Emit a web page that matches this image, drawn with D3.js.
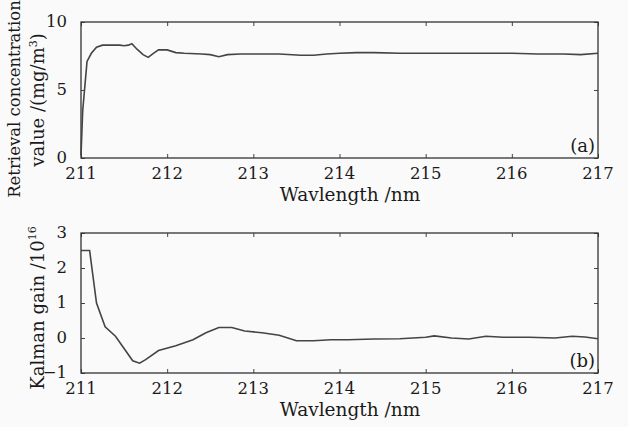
<!DOCTYPE html>
<html>
<head>
<meta charset="utf-8">
<script src="https://cdn.jsdelivr.net/npm/d3@7"></script>
<style>
  body { margin: 0; background: #fafafa; }
  text { font-family: "DejaVu Serif", serif; fill: #1a1a1a; }
</style>
</head>
<body>
<div id="chart"></div>
<script>
// wavelength axis ticks
const xTicks = [211, 212, 213, 214, 215, 216, 217];

// (a) retrieval concentration
const concWave = [211.0, 211.02, 211.07, 211.12, 211.18, 211.25, 211.35, 211.45, 211.5, 211.55, 211.59, 211.65, 211.72, 211.78, 211.84, 211.9, 212.0, 212.1, 212.2, 212.4, 212.5, 212.6, 212.7, 212.85, 213.0, 213.3, 213.55, 213.7, 213.85, 214.0, 214.2, 214.4, 214.7, 215.0, 215.5, 216.0, 216.3, 216.6, 216.8, 217.0];
const concVal  = [0.2, 3.5, 7.1, 7.7, 8.15, 8.3, 8.3, 8.3, 8.25, 8.3, 8.4, 8.0, 7.6, 7.4, 7.7, 7.95, 7.95, 7.75, 7.7, 7.65, 7.6, 7.45, 7.6, 7.65, 7.65, 7.65, 7.55, 7.55, 7.65, 7.7, 7.75, 7.75, 7.7, 7.7, 7.7, 7.7, 7.65, 7.65, 7.6, 7.7];

// (b) Kalman gain (x 10^16)
const gainWave = [211.0, 211.1, 211.18, 211.28, 211.4, 211.5, 211.6, 211.68, 211.75, 211.9, 212.1, 212.3, 212.45, 212.6, 212.75, 212.9, 213.1, 213.3, 213.5, 213.7, 213.9, 214.1, 214.4, 214.7, 215.0, 215.1, 215.3, 215.5, 215.7, 215.9, 216.2, 216.5, 216.7, 216.85, 217.0];
const gainVal  = [2.5, 2.5, 1.0, 0.32, 0.05, -0.3, -0.65, -0.72, -0.62, -0.36, -0.22, -0.05, 0.15, 0.3, 0.3, 0.2, 0.15, 0.08, -0.08, -0.08, -0.05, -0.05, -0.03, -0.02, 0.02, 0.06, 0.0, -0.03, 0.05, 0.02, 0.02, 0.0, 0.05, 0.03, -0.02];

const W = 628, H = 427;
const svg = d3.select("#chart").append("svg")
  .attr("width", W).attr("height", H);

const x = d3.scaleLinear().domain([211, 217]).range([81, 598]);

function panel(top, bottom, yDomain, yTicks, wave, vals, tag) {
  const y = d3.scaleLinear().domain(yDomain).range([bottom, top]);
  const g = svg.append("g");

  // ticks on all four sides, pointing inward
  g.append("g").attr("transform", `translate(0,${bottom})`)
    .call(d3.axisTop(x).tickValues(xTicks).tickSize(4).tickFormat(""));
  g.append("g").attr("transform", `translate(0,${top})`)
    .call(d3.axisBottom(x).tickValues(xTicks).tickSize(4).tickFormat(""));
  g.append("g").attr("transform", "translate(81,0)")
    .call(d3.axisRight(y).tickValues(yTicks).tickSize(4).tickFormat(""));
  g.append("g").attr("transform", "translate(598,0)")
    .call(d3.axisLeft(y).tickValues(yTicks).tickSize(4).tickFormat(""));
  g.selectAll(".domain").remove();
  g.selectAll(".tick line").attr("stroke", "#444");

  g.append("rect")
    .attr("x", 81).attr("y", top)
    .attr("width", 598 - 81).attr("height", bottom - top)
    .attr("fill", "none").attr("stroke", "#333").attr("stroke-width", 1.3);

  // tick labels
  g.selectAll(".xl").data(xTicks).enter().append("text")
    .attr("x", d => x(d)).attr("y", bottom + 21)
    .attr("text-anchor", "middle").style("font-size", "16.5px")
    .text(d => d);
  g.selectAll(".yl").data(yTicks).enter().append("text")
    .attr("x", 67).attr("y", d => y(d) + 5)
    .attr("text-anchor", "end").style("font-size", "16.5px")
    .text(d => d < 0 ? "\u2212" + Math.abs(d) : d);

  g.append("text")
    .attr("x", 350).attr("y", bottom + 43)
    .attr("text-anchor", "middle").style("font-size", "18.5px")
    .text("Wavlength /nm");

  g.append("text")
    .attr("x", 595).attr("y", bottom - 6)
    .attr("text-anchor", "end").style("font-size", "18px")
    .text(tag);

  const line = d3.line().x((d, i) => x(wave[i])).y(d => y(d));
  g.append("path").datum(vals)
    .attr("d", line)
    .attr("fill", "none")
    .attr("stroke", "#444")
    .attr("stroke-width", 1.6);
}

panel(22, 158, [0, 10], [0, 5, 10], concWave, concVal, "(a)");
panel(233, 373, [-1, 3], [-1, 0, 1, 2, 3], gainWave, gainVal, "(b)");

// y axis titles
svg.append("text")
  .attr("transform", "translate(20,99) rotate(-90)")
  .attr("text-anchor", "middle").style("font-size", "16.5px")
  .text("Retrieval concentration");
const yb = svg.append("text")
  .attr("transform", "translate(44,100) rotate(-90)")
  .attr("text-anchor", "middle").style("font-size", "18px");
yb.append("tspan").text("value /(mg/m");
yb.append("tspan").attr("dy", -7).style("font-size", "11px").text("3");
yb.append("tspan").attr("dy", 7).text(")");

const yc = svg.append("text")
  .attr("transform", "translate(44,308) rotate(-90)")
  .attr("text-anchor", "middle").style("font-size", "18px");
yc.append("tspan").text("Kalman gain /10");
yc.append("tspan").attr("dy", -8).style("font-size", "11px").text("16");
</script>
</body>
</html>
